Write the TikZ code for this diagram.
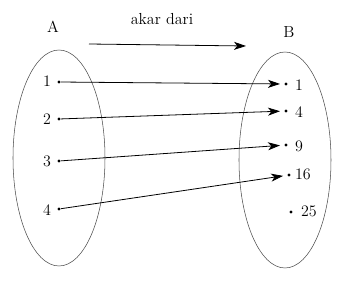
\documentclass[tikz,border=0pt]{standalone}
\usetikzlibrary{arrows.meta}
\begin{document}
\begin{tikzpicture}[
  x=0.75pt, y=-0.75pt,
  dot/.style={circle, fill=black, inner sep=0pt, minimum size=2.6pt},
  lbl/.style={font=\large, inner sep=0pt},
  map/.style={-{Stealth[length=9pt, width=6pt, inset=2.5pt]}, line width=0.6pt, shorten >=3pt},
  set/.style={draw=gray!60!black, line width=0.4pt},
]
\useasboundingbox (0,0) rectangle (355,303);

% Set dimensions
\def\rx{46}    % ellipse x radius
\def\ry{108}   % ellipse y radius

% ============================================================
% SETS
% ============================================================
\draw[set] (59,158) ellipse [x radius=\rx, y radius=\ry];
\draw[set] (285,160) ellipse [x radius=\rx, y radius=\ry];

\node[lbl] (setA) at (53,27) {A};
\node[lbl] (setB) at (289,32) {B};

% ============================================================
% RELATION NAME
% ============================================================
\node[lbl] (rel) at (162,19) {akar dari};
\coordinate (rel-s) at (89,44);
\coordinate (rel-e) at (246,46);
\draw[map, shorten >=0pt] (rel-s) -- (rel-e);

% ============================================================
% DOMAIN A
% ============================================================
\node[dot] (a1) at (59,82) {};
\node[dot] (a2) at (59,119) {};
\node[dot] (a3) at (59,161) {};
\node[dot] (a4) at (59,209) {};
\node[lbl] (la1) at (47,81) {1};
\node[lbl] (la2) at (47,119) {2};
\node[lbl] (la3) at (47,161) {3};
\node[lbl] (la4) at (47,210) {4};

% ============================================================
% CODOMAIN B
% ============================================================
\node[dot] (b1) at (286,84) {};
\node[dot] (b4) at (286,111) {};
\node[dot] (b9) at (286,145) {};
\node[dot] (b16) at (289,175) {};
\node[dot] (b25) at (291,212) {};
\node[lbl] (lb1) at (299,85) {1};
\node[lbl] (lb4) at (299,112) {4};
\node[lbl] (lb9) at (299,146) {9};
\node[lbl] (lb16) at (303,174) {16};
\node[lbl] (lb25) at (309,211) {25};

% ============================================================
% MAPPINGS
% ============================================================
\draw[map] (a1) -- (b1);
\draw[map] (a2) -- (b4);
\draw[map] (a3) -- (b9);
\draw[map] (a4) -- (b16);

\end{tikzpicture}
\end{document}
